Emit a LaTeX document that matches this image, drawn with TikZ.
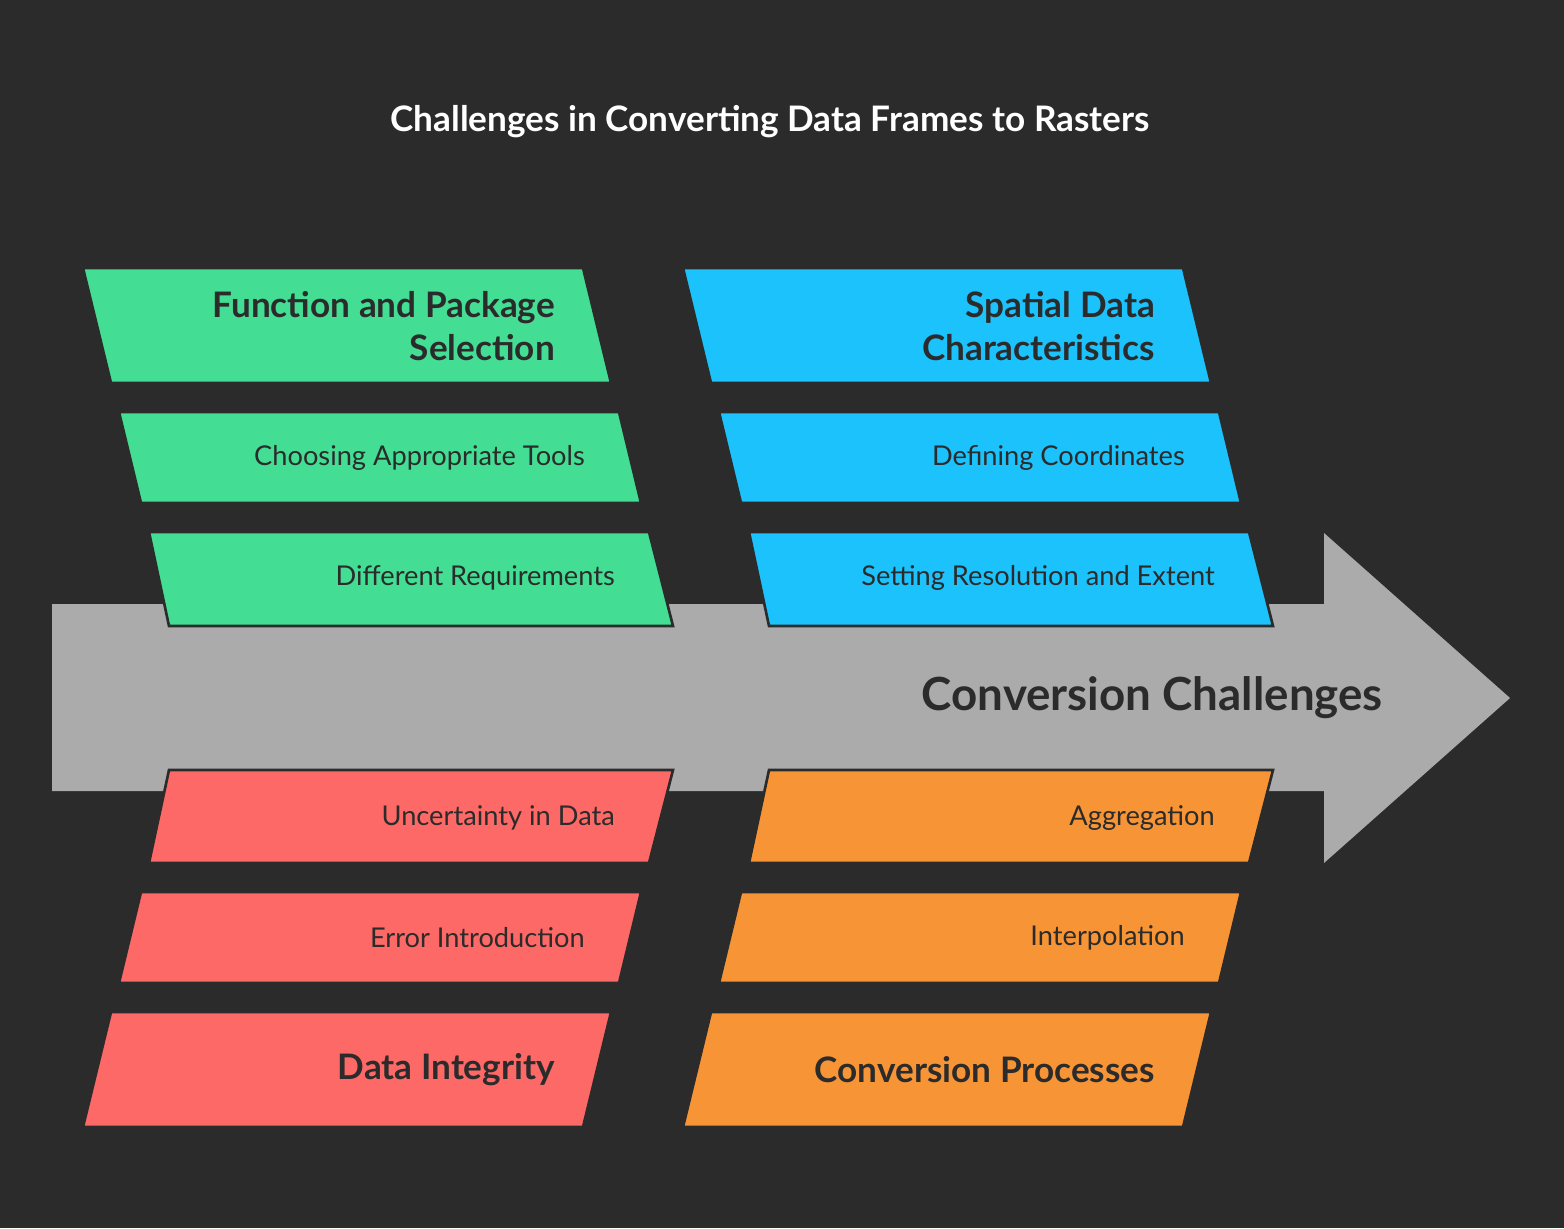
\documentclass[tikz,border=0pt]{standalone}
\usepackage{fontspec}
\setmainfont{Lato}
\usetikzlibrary{positioning}
\definecolor{bgc}{HTML}{2B2B2B}
\definecolor{grn}{HTML}{43DD94}
\definecolor{blu}{HTML}{1CC2FB}
\definecolor{rd}{HTML}{FD6966}
\definecolor{org}{HTML}{F79536}
\definecolor{arr}{HTML}{ABABAB}
\tikzset{
  band/.style={draw=bgc, line width=1.5pt, line join=miter},
  headtxt/.style={anchor=east, align=right, text=bgc, font=\fontsize{20}{24}\selectfont\bfseries},
  itemtxt/.style={anchor=east, text=bgc, font=\fontsize{15.5}{18}\selectfont}
}
\begin{document}
\begin{tikzpicture}[x=0.02cm, y=-0.02cm]
	\fill[bgc] (0,0) rectangle (1564,1228);
	\node[text=white, font=\fontsize{20}{24}\selectfont\bfseries] (title) at (770,122) {Challenges in Converting Data Frames to Rasters};

	% spine
	\fill[arr] (52,604) -- (1324,604) -- (1324,533) -- (1510,698) -- (1324,863) -- (1324,791) -- (52,791) -- cycle;
	\node[anchor=east, text=bgc, font=\fontsize{26}{30}\selectfont\bfseries] (spine) at (1389,698) {Conversion Challenges};

	% upper bands
	\foreach \dx/\col in {0/grn, 600/blu} {
		\fill[\col, band] (83+\dx,268) -- (583+\dx,268) -- (611+\dx,383) -- (111+\dx,383) -- cycle;
		\fill[\col, band] (119+\dx,412) -- (619+\dx,412) -- (641+\dx,503) -- (141+\dx,503) -- cycle;
		\fill[\col, band] (149+\dx,532) -- (649+\dx,532) -- (673+\dx,626) -- (169+\dx,626) -- cycle;
	}
	% lower bands
	\foreach \dx/\col in {0/rd, 600/org} {
		\fill[\col, band] (169+\dx,770) -- (673+\dx,770) -- (649+\dx,863) -- (149+\dx,863) -- cycle;
		\fill[\col, band] (141+\dx,892) -- (641+\dx,892) -- (619+\dx,983) -- (119+\dx,983) -- cycle;
		\fill[\col, band] (111+\dx,1012) -- (611+\dx,1012) -- (583+\dx,1127) -- (83+\dx,1127) -- cycle;
	}

	\node[headtxt] (fps) at (561,326) {Function and Package\\Selection};
	\node[itemtxt] (cat) at (591,458) {Choosing Appropriate Tools};
	\node[itemtxt] (dr) at (621,578) {Different Requirements};

	\node[headtxt] (sdc) at (1161,326) {Spatial Data\\Characteristics};
	\node[itemtxt] (dc) at (1191,458) {Defining Coordinates};
	\node[itemtxt] (sre) at (1221,578) {Setting Resolution and Extent};

	\node[itemtxt] (uid) at (621,818) {Uncertainty in Data};
	\node[itemtxt] (ei) at (591,938) {Error Introduction};
	\node[headtxt] (di) at (561,1070) {Data Integrity};

	\node[itemtxt] (agg) at (1221,818) {Aggregation};
	\node[itemtxt] (ip) at (1191,938) {Interpolation};
	\node[headtxt] (cp) at (1161,1070) {Conversion Processes};
\end{tikzpicture}
\end{document}
